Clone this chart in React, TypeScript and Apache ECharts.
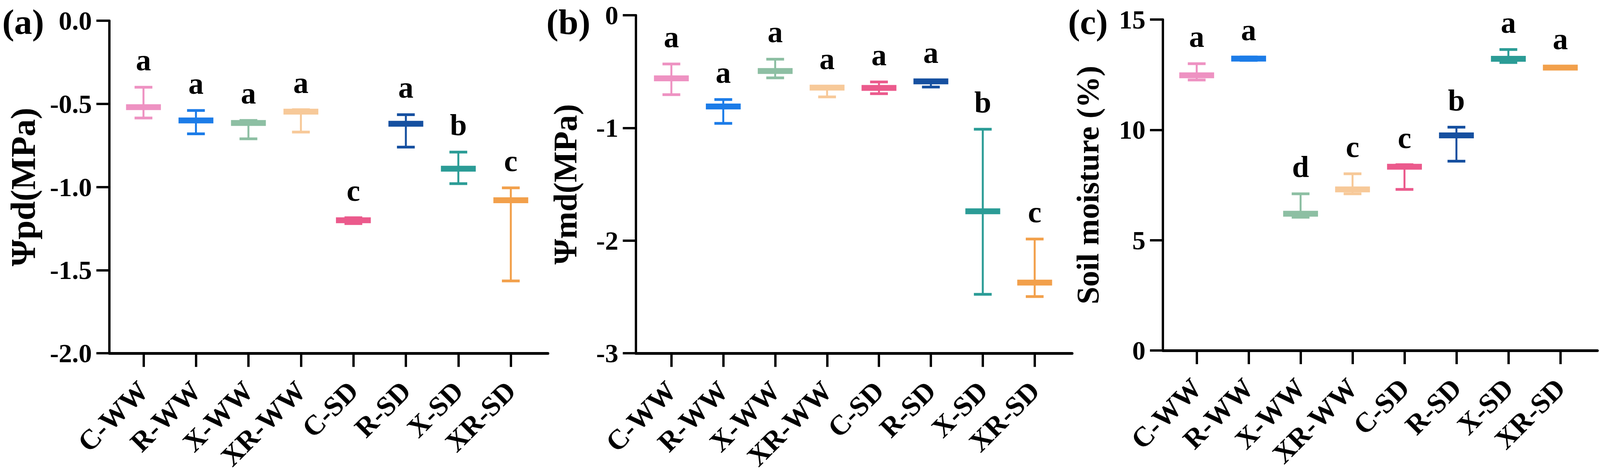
import React, { useEffect, useRef } from 'react';
import * as echarts from 'echarts';

const categories = ['C-WW', 'R-WW', 'X-WW', 'XR-WW', 'C-SD', 'R-SD', 'X-SD', 'XR-SD'];
const colors = ['#EE92C2', '#1C7CE8', '#8DBFA3', '#F7C999', '#EB5A8C', '#1650A0', '#2B9C96', '#F2A04B'];

// (a) predawn leaf water potential (MPa)
const pdMean = [-0.52, -0.6, -0.615, -0.547, -1.2, -0.62, -0.89, -1.08];
const pdLow = [-0.585, -0.68, -0.71, -0.67, -1.22, -0.76, -0.98, -1.565];
const pdHigh = [-0.4, -0.54, -0.6, -0.535, -1.185, -0.565, -0.79, -1.005];
const pdLetters = ['a', 'a', 'a', 'a', 'c', 'a', 'b', 'c'];

// (b) midday leaf water potential (MPa)
const mdMean = [-0.56, -0.81, -0.495, -0.642, -0.645, -0.587, -1.74, -2.373];
const mdLow = [-0.705, -0.96, -0.556, -0.725, -0.696, -0.637, -2.477, -2.497];
const mdHigh = [-0.433, -0.748, -0.39, -0.635, -0.592, -0.58, -1.012, -1.986];
const mdLetters = ['a', 'a', 'a', 'a', 'a', 'a', 'b', 'c'];

// (c) soil moisture (%)
const smMean = [12.47, 13.23, 6.2, 7.3, 8.33, 9.75, 13.22, 12.82];
const smLow = [12.26, 13.15, 6.04, 7.1, 7.3, 8.58, 13.05, 12.76];
const smHigh = [13.0, 13.3, 7.1, 8.01, 8.42, 10.12, 13.64, 12.88];
const smLetters = ['a', 'a', 'd', 'c', 'c', 'b', 'a', 'a'];

const FONT = '"Liberation Serif", "Times New Roman", serif';
const REF_W = 4316;

// layout in reference pixels (x values are scaled to the real page width)
const panels = [
  {
    tag: '(a)', tagX: 6, name: 'Ψpd(MPa)', nameGap: 186, nameSize: 88,
    mean: pdMean, low: pdLow, high: pdHigh, letters: pdLetters,
    yMin: -2, yMax: 0, yInterval: 0.5, decimals: 1,
    left: 295, right: 1478, top: 53, bottom: 912,
    xMin: -0.65, xMax: 7.707,
  },
  {
    tag: '(b)', tagX: 1474, name: 'Ψmd(MPa)', nameGap: 145, nameSize: 84,
    mean: mdMean, low: mdLow, high: mdHigh, letters: mdLetters,
    yMin: -3, yMax: 0, yInterval: 1, decimals: 0,
    left: 1715, right: 2892, top: 39, bottom: 906,
    xMin: -0.686, xMax: 7.721,
  },
  {
    tag: '(c)', tagX: 2881, name: 'Soil moisture (%)', nameGap: 160, nameSize: 81,
    mean: smMean, low: smLow, high: smHigh, letters: smLetters,
    yMin: 0, yMax: 15, yInterval: 5, decimals: 0,
    left: 3137, right: 4309, top: 50, bottom: 897,
    xMin: -0.65, xMax: 7.714,
  },
];

const tickIdx = categories.map((_, i) => i);

function buildOption(fx: number) {
  const grids: any[] = [];
  const xAxes: any[] = [];
  const yAxes: any[] = [];
  const series: any[] = [];
  const graphics: any[] = [];

  panels.forEach((p, k) => {
    grids.push({
      left: p.left * fx,
      width: (p.right - p.left) * fx,
      top: p.top,
      height: p.bottom - p.top,
      containLabel: false,
    });
    xAxes.push({
      type: 'value',
      gridIndex: k,
      min: p.xMin,
      max: p.xMax,
      splitLine: { show: false },
      axisLine: { show: true, onZero: false, lineStyle: { color: '#000', width: 7 } },
      axisTick: { show: true, customValues: tickIdx, length: 35, lineStyle: { color: '#000', width: 6 } },
      axisLabel: {
        show: true,
        customValues: tickIdx,
        formatter: (v: number) => categories[Math.round(v)] ?? '',
        rotate: 45,
        margin: 84,
        color: '#000',
        fontSize: 72,
        fontWeight: 'bold',
        fontFamily: FONT,
      },
    });
    yAxes.push({
      type: 'value',
      gridIndex: k,
      min: p.yMin,
      max: p.yMax,
      interval: p.yInterval,
      name: p.name,
      nameLocation: 'middle',
      nameGap: p.nameGap * fx,
      nameTextStyle: { color: '#000', fontSize: p.nameSize, fontWeight: 'bold', fontFamily: FONT },
      splitLine: { show: false },
      axisLine: { show: true, onZero: false, lineStyle: { color: '#000', width: 6 } },
      axisTick: { show: true, length: 35 * fx, lineStyle: { color: '#000', width: 6 } },
      axisLabel: {
        color: '#000',
        fontSize: 68,
        lineHeight: 56,
        fontWeight: 'bold',
        fontFamily: FONT,
        margin: 47 * fx,
        formatter: (v: number) => v.toFixed(p.decimals),
      },
    });
    const data = categories.map((_, i) => [i, p.mean[i], p.low[i], p.high[i]]);
    const letters = p.letters;
    series.push({
      type: 'custom',
      xAxisIndex: k,
      yAxisIndex: k,
      data,
      clip: false,
      renderItem: (params: any, api: any) => {
        const i = api.value(0);
        const m = api.value(1);
        const lo = api.value(2);
        const hi = api.value(3);
        const pM = api.coord([i, m]);
        const pLo = api.coord([i, lo]);
        const pHi = api.coord([i, hi]);
        const x = pM[0];
        const c = colors[params.dataIndex];
        const bandH = 15;
        const capH = 7;
        const bandHalf = 47 * fx;
        const capHalf = 24 * fx;
        const topY = Math.min(pHi[1] - capH / 2, pM[1] - bandH / 2);
        return {
          type: 'group',
          children: [
            { type: 'line', shape: { x1: x, y1: pLo[1], x2: x, y2: pHi[1] }, style: { stroke: c, lineWidth: 5 } },
            { type: 'rect', shape: { x: x - capHalf, y: pLo[1] - capH / 2, width: capHalf * 2, height: capH }, style: { fill: c } },
            { type: 'rect', shape: { x: x - capHalf, y: pHi[1] - capH / 2, width: capHalf * 2, height: capH }, style: { fill: c } },
            { type: 'rect', shape: { x: x - bandHalf, y: pM[1] - bandH / 2, width: bandHalf * 2, height: bandH }, style: { fill: c } },
            {
              type: 'text',
              x: x,
              y: topY - 27,
              style: {
                text: letters[params.dataIndex],
                fill: '#000',
                fontSize: 78,
                fontWeight: 'bold',
                fontFamily: FONT,
                align: 'center',
                verticalAlign: 'bottom',
              },
            },
          ],
        };
      },
    });
    graphics.push({
      type: 'text',
      left: p.tagX * fx,
      top: 10,
      style: { text: p.tag, fill: '#000', fontSize: 92, fontWeight: 'bold', fontFamily: FONT },
    });
  });

  return {
    animation: false,
    backgroundColor: '#fff',
    grid: grids,
    xAxis: xAxes,
    yAxis: yAxes,
    series,
    graphic: graphics,
  };
}

export default function App() {
  const ref = useRef<HTMLDivElement>(null);
  useEffect(() => {
    document.body.style.margin = '0';
    document.body.style.overflow = 'hidden';
    const el = ref.current as HTMLDivElement;
    const w = Math.min(window.innerWidth || REF_W, REF_W);
    el.style.width = `${w}px`;
    const fx = w / REF_W;
    const chart = echarts.init(el, null, { renderer: 'svg' });
    chart.setOption(buildOption(fx) as any);
    return () => chart.dispose();
  }, []);
  return <div ref={ref} style={{ width: '100vw', maxWidth: REF_W, height: 1208 }} />;
}
